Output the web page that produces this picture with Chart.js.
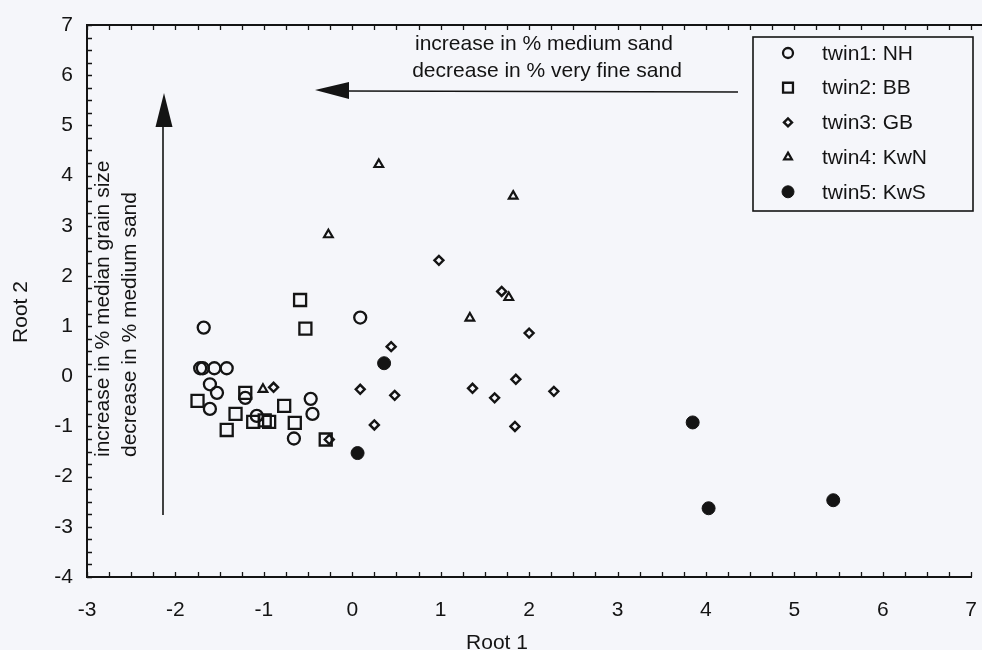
<!DOCTYPE html>
<html>
<head>
<meta charset="utf-8">
<title>Root 1 / Root 2</title>
<script src="https://cdn.jsdelivr.net/npm/chart.js@4.4.1/dist/chart.umd.min.js"></script>
<style>
  html, body { margin: 0; padding: 0; background: #f5f6fa; }
  #wrap { position: relative; width: 982px; height: 650px; }
</style>
</head>
<body>
<div id="wrap"><canvas id="scatter"></canvas></div>
<script>
// Discriminant scores per twin station: [Root 1, Root 2]
const twin1NH = [
  [-1.68, 0.97], [0.09, 1.17], [-1.72, 0.16], [-1.69, 0.16], [-1.56, 0.16],
  [-1.42, 0.16], [-1.61, -0.16], [-1.53, -0.33], [-1.61, -0.65], [-1.21, -0.43],
  [-1.08, -0.79], [-0.47, -0.45], [-0.45, -0.75], [-0.66, -1.24]
];
const twin2BB = [
  [-0.59, 1.52], [-0.53, 0.95], [-1.75, -0.49], [-1.21, -0.33], [-1.32, -0.75],
  [-1.42, -1.07], [-1.12, -0.91], [-0.99, -0.88], [-0.94, -0.91], [-0.77, -0.59],
  [-0.65, -0.93], [-0.30, -1.26]
];
const twin3GB = [
  [-0.89, -0.22], [-0.26, -1.26], [0.98, 2.31], [1.69, 1.69], [2.00, 0.86],
  [0.44, 0.59], [0.09, -0.26], [0.48, -0.38], [0.25, -0.97], [1.36, -0.24],
  [1.85, -0.06], [1.61, -0.43], [2.28, -0.30], [1.84, -1.00]
];
const twin4KwN = [
  [0.30, 4.22], [1.82, 3.59], [-0.27, 2.82], [1.77, 1.57], [1.33, 1.16], [-1.01, -0.26]
];
const twin5KwS = [
  [0.36, 0.26], [0.06, -1.53], [3.85, -0.92], [4.03, -2.63], [5.44, -2.47]
];

const seriesNames = ['twin1: NH', 'twin2: BB', 'twin3: GB', 'twin4: KwN', 'twin5: KwS'];
const xTicks = [-3, -2, -1, 0, 1, 2, 3, 4, 5, 6, 7];
const yTicks = [-4, -3, -2, -1, 0, 1, 2, 3, 4, 5, 6, 7];

const INK = '#141414';
const PAPER = '#f5f6fa';
const FONT = "'Liberation Sans', Arial, sans-serif";

const toPoints = arr => arr.map(([x, y]) => ({ x, y }));

const styles = [
  { pointStyle: 'circle',   radius: 6,   borderWidth: 2.3, fill: 'rgba(0,0,0,0)', legendRadius: 5 },
  { pointStyle: 'rect',     radius: 8.5, borderWidth: 2.3, fill: 'rgba(0,0,0,0)', legendRadius: 7 },
  { pointStyle: 'rectRot',  radius: 4.5, borderWidth: 2.4, fill: 'rgba(0,0,0,0)', legendRadius: 4 },
  { pointStyle: 'triangle', radius: 5,   borderWidth: 2.2, fill: 'rgba(0,0,0,0)', legendRadius: 4.5 },
  { pointStyle: 'circle',   radius: 6.5, borderWidth: 1,   fill: INK,             legendRadius: 6 }
];

const allSeries = [twin1NH, twin2BB, twin3GB, twin4KwN, twin5KwS];

const datasets = allSeries.map((arr, i) => ({
  label: seriesNames[i],
  data: toPoints(arr),
  pointStyle: styles[i].pointStyle,
  pointRadius: styles[i].radius,
  pointHoverRadius: styles[i].radius,
  pointBorderWidth: styles[i].borderWidth,
  borderColor: INK,
  backgroundColor: styles[i].fill,
  pointBackgroundColor: styles[i].fill
}));

// ticks, labels, arrows, notes and the boxed legend
const decor = {
  id: 'decor',
  afterDraw(chart) {
    const { ctx, chartArea: a } = chart;
    const sx = chart.scales.x, sy = chart.scales.y;
    ctx.save();
    ctx.strokeStyle = INK;
    ctx.fillStyle = INK;

    // top frame edge
    ctx.lineWidth = 2;
    ctx.beginPath();
    ctx.moveTo(a.left, a.top);
    ctx.lineTo(chart.width, a.top);
    ctx.stroke();

    // inward tick marks every quarter unit
    ctx.lineWidth = 1.3;
    ctx.beginPath();
    for (let v = xTicks[0]; v <= xTicks[xTicks.length - 1] + 1e-9; v += 0.25) {
      const px = Math.round(sx.getPixelForValue(v)) + 0.5;
      ctx.moveTo(px, a.bottom); ctx.lineTo(px, a.bottom - 5);
      ctx.moveTo(px, a.top); ctx.lineTo(px, a.top + 5);
    }
    for (let v = yTicks[0]; v <= yTicks[yTicks.length - 1] + 1e-9; v += 0.25) {
      const py = Math.round(sy.getPixelForValue(v)) + 0.5;
      ctx.moveTo(a.left, py); ctx.lineTo(a.left + 5, py);
    }
    ctx.stroke();

    // tick labels
    ctx.font = '21px ' + FONT;
    ctx.textAlign = 'center';
    ctx.textBaseline = 'middle';
    xTicks.forEach(t => ctx.fillText(String(t), sx.getPixelForValue(t), 610));
    ctx.textAlign = 'right';
    yTicks.forEach(t => ctx.fillText(String(t), 73, sy.getPixelForValue(t)));

    // axis titles
    ctx.textAlign = 'center';
    ctx.fillText('Root 1', 497, 643);
    ctx.save();
    ctx.translate(21, 312);
    ctx.rotate(-Math.PI / 2);
    ctx.fillText('Root 2', 0, 0);
    ctx.restore();

    // vertical note beside the arrow
    ctx.save();
    ctx.translate(103, 457);
    ctx.rotate(-Math.PI / 2);
    ctx.textAlign = 'left';
    ctx.fillText('increase in % median grain size', 0, 0);
    ctx.fillText('decrease in % medium sand', 0, 27);
    ctx.restore();

    // horizontal note
    ctx.textAlign = 'center';
    ctx.fillText('increase in % medium sand', 544, 44);
    ctx.fillText('decrease in % very fine sand', 547, 71);

    // arrows
    ctx.lineWidth = 1.6;
    ctx.beginPath();
    ctx.moveTo(738, 92); ctx.lineTo(346, 91);
    ctx.moveTo(163, 515); ctx.lineTo(163, 126);
    ctx.stroke();
    ctx.beginPath();
    ctx.moveTo(315, 90); ctx.lineTo(349, 82); ctx.lineTo(349, 99); ctx.closePath();
    ctx.moveTo(164, 93); ctx.lineTo(155.5, 127); ctx.lineTo(172.5, 127); ctx.closePath();
    ctx.fill();

    // legend box
    const box = { left: 753, top: 37, right: 973, bottom: 211 };
    ctx.fillStyle = PAPER;
    ctx.fillRect(box.left, box.top, box.right - box.left, box.bottom - box.top);
    ctx.lineWidth = 1.6;
    ctx.strokeRect(box.left, box.top, box.right - box.left, box.bottom - box.top);
    ctx.textAlign = 'left';
    chart.data.datasets.forEach((ds, i) => {
      const ly = 53 + i * 34.7;
      ctx.fillStyle = styles[i].fill;
      ctx.strokeStyle = INK;
      ctx.lineWidth = styles[i].borderWidth;
      Chart.helpers.drawPoint(ctx, {
        pointStyle: styles[i].pointStyle,
        radius: styles[i].legendRadius,
        rotation: 0,
        borderWidth: styles[i].borderWidth
      }, 788, ly);
      ctx.fillStyle = INK;
      ctx.fillText(ds.label, 822, ly + 1);
    });

    ctx.restore();
  }
};

new Chart(document.getElementById('scatter'), {
  type: 'scatter',
  data: { datasets },
  options: {
    responsive: true,
    maintainAspectRatio: false,
    animation: false,
    layout: { padding: { top: 25, right: 2, left: 0, bottom: 0 } },
    plugins: {
      legend: { display: false },
      tooltip: { enabled: false }
    },
    scales: {
      x: {
        type: 'linear',
        min: xTicks[0],
        max: xTicks[xTicks.length - 1],
        ticks: { display: false },
        grid: { display: false },
        border: { color: INK, width: 2 },
        afterFit: s => { s.height = 73; }
      },
      y: {
        type: 'linear',
        min: yTicks[0],
        max: yTicks[yTicks.length - 1],
        ticks: { display: false },
        grid: { display: false },
        border: { color: INK, width: 2 },
        afterFit: s => { s.width = 87; }
      }
    }
  },
  plugins: [decor]
});
</script>
</body>
</html>
